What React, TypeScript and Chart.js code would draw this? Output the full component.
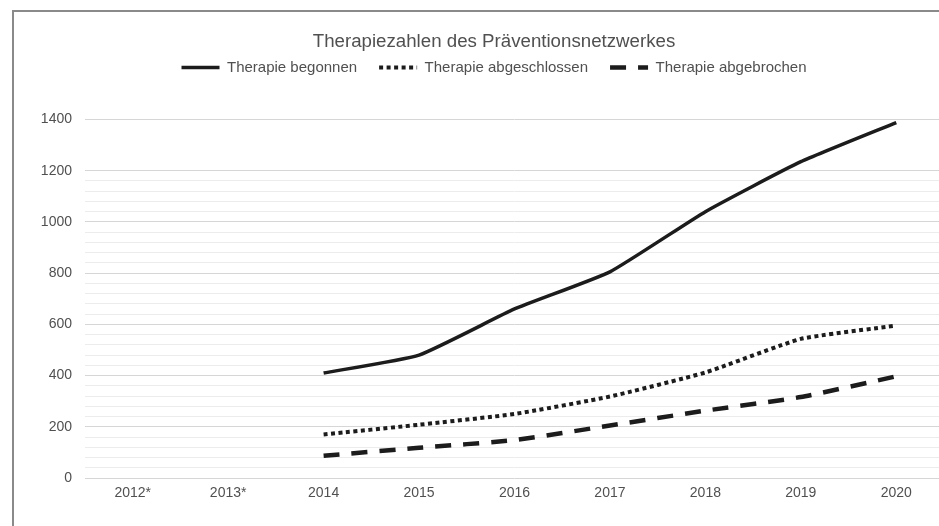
import React, { useEffect, useRef } from "react";
import { Chart, registerables } from "chart.js";

Chart.register(...registerables);

const categories = ["2012*", "2013*", "2014", "2015", "2016", "2017", "2018", "2019", "2020"];
const begonnen = [null, null, 410, 480, 660, 805, 1040, 1235, 1388];
const abgeschlossen = [null, null, 170, 208, 250, 318, 412, 543, 595];
const abgebrochen = [null, null, 87, 118, 148, 205, 263, 316, 397];
const yTicks = [0, 200, 400, 600, 800, 1000, 1200, 1400];

const chartTitle = "Therapiezahlen des Präventionsnetzwerkes";
const seriesNames = ["Therapie begonnen", "Therapie abgeschlossen", "Therapie abgebrochen"];

const FONT = "'Liberation Sans', Arial, sans-serif";
const TEXT = "#505050";
const LINE = "#1c1c1c";

export default function App() {
  const ref = useRef<HTMLCanvasElement | null>(null);

  useEffect(() => {
    if (!ref.current) return;
    const chart = new Chart(ref.current, {
      type: "line",
      data: {
        labels: categories,
        datasets: [
          {
            label: seriesNames[0],
            data: begonnen,
            borderColor: LINE,
            backgroundColor: LINE,
            borderWidth: 3.5,
            pointRadius: 0,
            tension: 0.15,
          },
          {
            label: seriesNames[1],
            data: abgeschlossen,
            borderColor: LINE,
            backgroundColor: LINE,
            borderWidth: 4,
            borderDash: [4, 3.5],
            pointRadius: 0,
            tension: 0.15,
          },
          {
            label: seriesNames[2],
            data: abgebrochen,
            borderColor: LINE,
            backgroundColor: LINE,
            borderWidth: 4.5,
            borderDash: [16, 12],
            pointRadius: 0,
            tension: 0.15,
          },
        ],
      },
      options: {
        animation: false,
        responsive: false,
        maintainAspectRatio: false,
        layout: { padding: 0 },
        plugins: {
          title: {
            display: true,
            text: chartTitle,
            color: TEXT,
            font: { family: FONT, size: 18.7, weight: "normal", lineHeight: 1.2 },
            padding: { top: 30.6, bottom: -15.1 },
          },
          legend: {
            display: true,
            position: "top",
            labels: {
              usePointStyle: true,
              pointStyle: "line",
              pointStyleWidth: 38,
              padding: 22,
              color: TEXT,
              font: { family: FONT, size: 15 },
              generateLabels: (c: any) => {
                const items = Chart.defaults.plugins.legend.labels.generateLabels(c);
                return items.map((it: any) => {
                  const ds: any = c.data.datasets[it.datasetIndex];
                  return {
                    ...it,
                    lineDash: ds.borderDash || [],
                    lineWidth: ds.borderWidth,
                    strokeStyle: LINE,
                    fillStyle: LINE,
                  };
                });
              },
            },
          },
          tooltip: { enabled: false },
        },
        scales: {
          x: {
            offset: true,
            grid: { display: false, drawTicks: false },
            border: { display: false },
            ticks: { padding: 7, color: TEXT, font: { family: FONT, size: 14 } },
            afterFit: (s: any) => {
              s.height = 48;
            },
          },
          x2: {
            type: "category",
            position: "top",
            display: true,
            grid: { display: false, drawTicks: false },
            border: { display: false },
            ticks: { display: false },
            afterFit: (s: any) => {
              s.height = 34.5;
            },
          },
          y: {
            min: 0,
            max: 1400,
            grid: {
              drawTicks: false,
              lineWidth: 1,
              color: (ctx: any) => {
                const v = ctx.tick ? ctx.tick.value : 0;
                if (yTicks.includes(v)) return "#d6d6d6";
                return v < 1200 ? "#ececec" : "rgba(0,0,0,0)";
              },
            },
            border: { display: false },
            ticks: {
              stepSize: 40,
              autoSkip: false,
              padding: 13,
              color: TEXT,
              font: { family: FONT, size: 14 },
              callback: (v: any) => (yTicks.includes(Number(v)) ? String(v) : ""),
            },
            afterFit: (s: any) => {
              s.width = 85;
            },
          },
          y2: {
            type: "linear",
            position: "right",
            display: true,
            grid: { display: false, drawTicks: false },
            border: { display: false },
            ticks: { display: false },
            afterFit: (s: any) => {
              s.width = 44;
            },
          },
        },
      },
    });
    return () => chart.destroy();
  }, []);

  return (
    <div
      style={{
        position: "fixed",
        left: 0,
        top: 0,
        width: 939,
        height: 526,
        overflow: "hidden",
        background: "#ffffff",
      }}
    >
      <div
        style={{
          position: "absolute",
          left: 12,
          top: 10,
          width: 1000,
          height: 600,
          borderLeft: "2px solid #8a8a8a",
          borderTop: "2px solid #8a8a8a",
        }}
      />
      <canvas
        ref={ref}
        width={988}
        height={526}
        style={{ position: "absolute", left: 0, top: 0, width: 988, height: 526 }}
      />
    </div>
  );
}
